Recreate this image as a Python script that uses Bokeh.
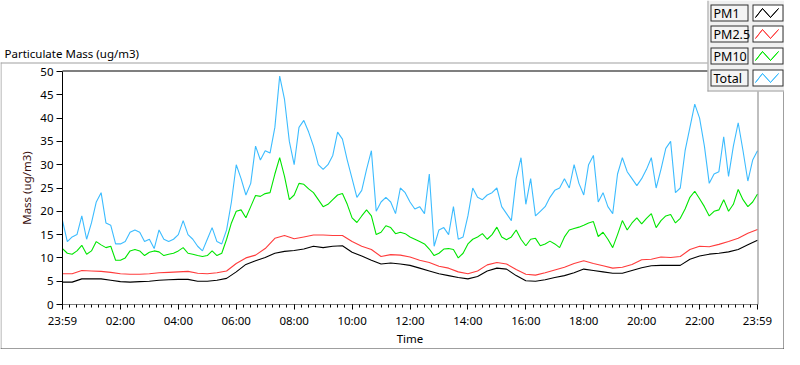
from bokeh.plotting import figure
from bokeh.models import Range1d, FixedTicker, Label, BoxAnnotation, PolyAnnotation, LinearAxis
from bokeh.embed import file_html
from bokeh.resources import INLINE

# ---------------- data ----------------
# time in minutes since 23:59 (start of the 24 h window)
minutes_fine = list(range(0, 1441, 10))     # Total, PM10
minutes_coarse = list(range(0, 1441, 20))   # PM1, PM2.5

total = [
    18, 13.5, 14.5, 15, 19, 14,
    17.5, 22, 24, 17.5, 17, 13,
    13, 13.5, 15.5, 16, 15.5, 13.5,
    14, 12, 16, 14, 13.5, 14,
    15, 18, 15, 14, 12.5, 11.5,
    14, 16.5, 13.5, 13, 16, 22,
    30, 27, 23.5, 26, 34, 31,
    33, 32.5, 38, 49, 44, 35,
    30, 38, 39.5, 37, 34, 30,
    29, 30, 32, 37, 35.5, 31,
    27, 23, 24.5, 29, 33, 20,
    22, 23, 22, 19.5, 25, 24,
    22, 20.5, 21, 19.5, 28, 12.5,
    16, 16.5, 15, 21, 14, 14.5,
    19, 25, 23, 22.5, 23.5, 24,
    25, 21, 19.5, 18, 27, 31.5,
    21.5, 27, 19, 20, 21, 23,
    24.5, 25, 27, 25, 30, 26,
    23.5, 30, 32, 22, 24, 21,
    19.5, 28, 31.5, 28.5, 27, 25.5,
    27, 29, 31.5, 25, 29, 33.5,
    35, 24, 25, 33, 38, 43,
    40, 34, 26, 28, 28.5, 36,
    27.5, 34, 39, 33, 26.5, 31,
    33,
]

pm10 = [
    12, 11, 10.8, 11.5, 12.7, 10.8,
    11.5, 13.5, 12.8, 12.2, 12.5, 9.5,
    9.5, 10, 11.5, 11.8, 11.5, 10.5,
    11.2, 11.5, 11.3, 10.5, 10.8, 11,
    11.5, 12.2, 11, 10.8, 10.5, 10.3,
    10.5, 11.5, 10.5, 11, 14, 17.5,
    20, 20.3, 18.6, 21, 23.4, 23.2,
    23.8, 24, 28, 31.5, 27.5, 22.5,
    23.5, 26, 25.8, 24.8, 24, 22.5,
    21, 21.5, 22.5, 23.5, 23.8, 21.5,
    18.6, 17.6, 19, 20.3, 19, 15,
    15.5, 16.9, 16.5, 15.2, 15.5, 15.2,
    14.5, 14, 13.5, 13, 11.9, 10.5,
    11, 11.9, 12, 11.8, 10, 11,
    13, 14, 14.5, 15.2, 14, 15,
    16.6, 14.5, 13.9, 14.5, 16, 14,
    12.6, 14, 14.2, 12.6, 13, 13.6,
    13, 12.2, 14.5, 16, 16.3, 16.6,
    17, 17.5, 17.8, 14.6, 15.5, 14,
    12.2, 15, 18, 16, 17.5, 18.6,
    17.3, 18.5, 19.5, 16.5, 18, 19,
    19.3, 17.5, 18.5, 20.5, 23, 24.3,
    22.7, 21, 19, 20, 20.3, 22.5,
    20, 21.5, 24.7, 22.5, 21, 22,
    23.7,
]

pm25 = [
    6.6, 6.6, 7.3, 7.2, 7.1, 6.9, 6.6, 6.5, 6.5, 6.6, 6.8, 6.9,
    7.0, 7.1, 6.7, 6.6, 6.8, 7.2, 8.8, 10.0, 10.6, 12.0, 14.2, 14.8,
    14.1, 14.5, 14.9, 14.9, 14.8, 14.8, 13.5, 12.5, 11.8, 10.3, 10.7, 10.6,
    10.2, 9.5, 9.0, 8.2, 7.8, 7.0, 6.6, 7.2, 8.5, 9.0, 8.7, 7.5,
    6.5, 6.3, 6.8, 7.4, 8.0, 8.8, 9.4, 8.8, 8.3, 7.8, 8.0, 8.6,
    9.6, 9.7, 10.2, 10.1, 10.3, 11.8, 12.5, 12.4, 12.9, 13.5, 14.2, 15.3,
    16.1,
]

pm1 = [
    4.8, 4.8, 5.5, 5.5, 5.5, 5.2, 4.9, 4.8, 4.9, 5.0, 5.2, 5.3,
    5.4, 5.4, 5.0, 5.0, 5.2, 5.6, 7.0, 8.6, 9.4, 10.1, 11.0, 11.4,
    11.6, 11.9, 12.5, 12.2, 12.5, 12.6, 11.2, 10.4, 9.5, 8.7, 8.9, 8.7,
    8.4, 7.8, 7.2, 6.6, 6.2, 5.8, 5.5, 6.0, 7.2, 7.8, 7.6, 6.2,
    5.1, 5.0, 5.3, 5.8, 6.2, 6.8, 7.6, 7.3, 7.0, 6.7, 6.7, 7.3,
    7.9, 8.3, 8.4, 8.4, 8.4, 9.7, 10.4, 10.8, 11.0, 11.3, 11.8, 12.8,
    13.8,
]

series_names = ["PM1", "PM2.5", "PM10", "Total"]
series_colors = ["#000000", "#ff3c3c", "#00e600", "#3cbcff"]

x_tick_hours = [0, 2, 4, 6, 8, 10, 12, 14, 16, 18, 20, 22, 24]
x_tick_labels = ["23:59", "02:00", "04:00", "06:00", "08:00", "10:00", "12:00",
                 "14:00", "16:00", "18:00", "20:00", "22:00", "23:59"]
y_ticks = [0, 5, 10, 15, 20, 25, 30, 35, 40, 45, 50]
X_MAX, Y_MAX = 24, 50

# ---------------- layout (canvas pixels) ----------------
W, H = 784, 349
PL, PR, PT, PB = 62, 757, 71, 304          # plot area inside the canvas
KX = (PR - PL) / X_MAX                      # px per hour
KY = (PB - PT) / Y_MAX                      # px per ug/m3
FONT = "Noto Sans"
FS = "11.5px"


def dx(cx):
    return (cx - PL) / KX


def dy(cy):
    return (PB - cy) / KY


p = figure(width=W, height=H, x_range=Range1d(dx(0), dx(W)), y_range=Range1d(dy(H), dy(0)),
           output_backend="svg", toolbar_location=None,
           x_axis_location=None, y_axis_location=None, min_border=0)
p.grid.visible = False
p.outline_line_color = None
p.background_fill_color = "white"
p.border_fill_color = "white"

xa = LinearAxis(fixed_location=0, bounds=(0, X_MAX))
xa.ticker = FixedTicker(ticks=x_tick_hours, minor_ticks=[m / 60 for m in range(0, 1441, 15)])
xa.major_label_overrides = {h: lab for h, lab in zip(x_tick_hours, x_tick_labels)}
xa.axis_line_color = "#808080"
xa.major_tick_line_color = "#000000"
xa.minor_tick_line_color = "#000000"
xa.major_tick_in = 0
xa.major_tick_out = 5
xa.minor_tick_in = 0
xa.minor_tick_out = 3
xa.major_label_text_font = FONT
xa.major_label_text_font_size = FS
xa.major_label_text_color = "#000000"
xa.major_label_standoff = 3
xa.axis_label = "Time"
xa.axis_label_text_font = FONT
xa.axis_label_text_font_size = FS
xa.axis_label_text_font_style = "normal"
xa.axis_label_text_color = "#000000"
xa.axis_label_standoff = 0
p.add_layout(xa, "below")

ya = LinearAxis(fixed_location=0, bounds=(0, Y_MAX))
ya.ticker = FixedTicker(ticks=y_ticks)
ya.axis_line_color = "#000000"
ya.major_tick_line_color = "#000000"
ya.minor_tick_line_color = None
ya.major_tick_in = 0
ya.major_tick_out = 6
ya.major_label_text_font = FONT
ya.major_label_text_font_size = FS
ya.major_label_text_color = "#000000"
ya.major_label_standoff = 3
ya.axis_label = "Mass (ug/m3)"
ya.axis_label_text_font = FONT
ya.axis_label_text_font_size = FS
ya.axis_label_text_font_style = "normal"
ya.axis_label_text_color = "#3a1010"
ya.axis_label_standoff = 3
p.add_layout(ya, "left")


def pbox(l, t, r, b, fill):
    p.add_layout(BoxAnnotation(left=dx(l), right=dx(r), top=dy(t), bottom=dy(b),
                               fill_color=fill, fill_alpha=1.0, line_alpha=0.0))


# outer panel border
pbox(0, 62, W, 63, "#a0a0a0")
pbox(0, 62, 1, H, "#a0a0a0")
pbox(W - 1, 62, W, H, "#404040")
pbox(0, H - 1, W, H, "#404040")

# plot area top (black) and right (gray) edges
pbox(PL, PT - 1, PR + 1, PT, "#000000")
pbox(PR, PT, PR + 1, PB, "#808080")

# data
hours_fine = [m / 60 for m in minutes_fine]
hours_coarse = [m / 60 for m in minutes_coarse]
p.line(hours_coarse, pm1, line_color=series_colors[0], line_width=1.1)
p.line(hours_coarse, pm25, line_color=series_colors[1], line_width=1.1)
p.line(hours_fine, pm10, line_color=series_colors[2], line_width=1.1)
p.line(hours_fine, total, line_color=series_colors[3], line_width=1.1)

# title
p.add_layout(Label(x=dx(4), y=dy(53), text="Particulate Mass (ug/m3)", text_font=FONT,
                   text_font_size=FS, text_color="#000000", text_baseline="middle",
                   text_align="left"))

# legend panel (LabVIEW style: name box + plot sample box)
LX0, LX1, LY0, LY1 = 707, W, 0, 91
pbox(LX0, LY0, LX1, LY1, "#f0f0f0")
pbox(LX0, LY0, LX0 + 1, LY1, "#a0a0a0")
pbox(LX0, LY1 - 1, LX1, LY1, "#a0a0a0")
row_tops = [4, 25, 47, 69]
RH = 17
for name, col, rt in zip(series_names, series_colors, row_tops):
    pbox(710, rt, 748, rt + RH, "#303030")
    pbox(711, rt + 1, 747, rt + RH - 1, "#f4f4f4")
    p.add_layout(Label(x=dx(713), y=dy(rt + RH / 2 + 0.5), text=name,
                       text_font=FONT, text_font_size="12.5px", text_color="#000000",
                       text_baseline="middle", text_align="left"))
    pbox(752, rt, W - 1, rt + RH, "#303030")
    pbox(753, rt + 1, W - 2, rt + RH - 1, "#ffffff")
    pts = [(755, rt + RH - 4), (762, rt + 4), (770, rt + RH - 4), (778, rt + 4)]
    seq = pts + pts[-2:0:-1]
    p.add_layout(PolyAnnotation(xs=[dx(a) for a, _ in seq], ys=[dy(b) for _, b in seq],
                                fill_color=None, fill_alpha=0, line_color=col,
                                line_width=1, line_alpha=1.0))

open("out.html", "w").write(file_html(p, INLINE))
